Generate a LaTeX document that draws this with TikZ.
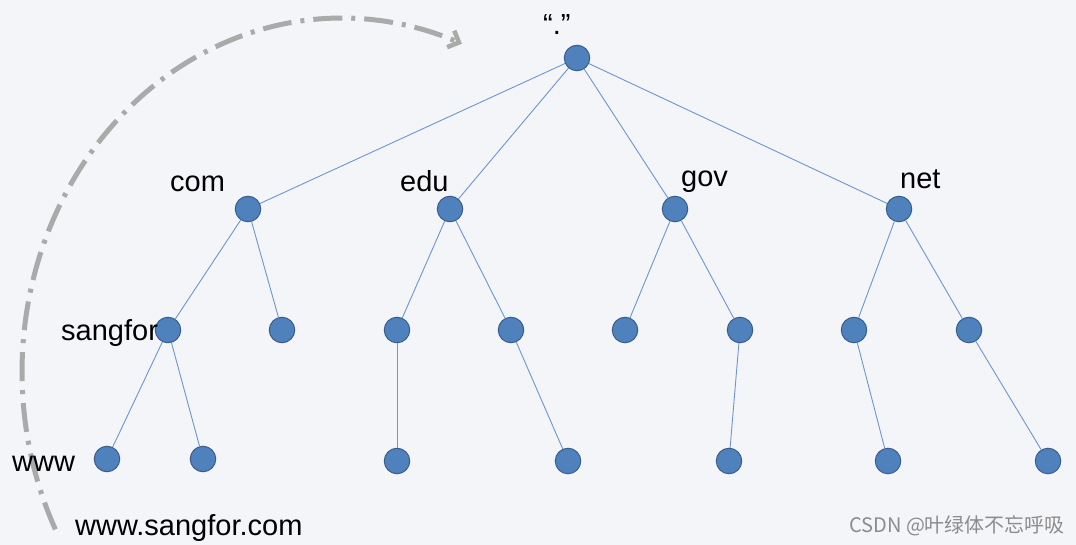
\documentclass[tikz,border=0pt]{standalone}
\usepackage{fontspec}
\setmainfont{Liberation Sans}
\newfontfamily\cjk{Noto Sans CJK SC}
\usetikzlibrary{arrows.meta}
\definecolor{bg}{RGB}{244,245,249}
\definecolor{nodefill}{RGB}{79,129,189}
\definecolor{nodeborder}{RGB}{56,93,138}
\definecolor{edgecol}{RGB}{110,150,205}
\definecolor{arcgray}{RGB}{170,170,170}
\definecolor{wm}{RGB}{140,140,140}
\begin{document}
\begin{tikzpicture}[x=1pt,y=-1pt,
  dot/.style={circle,fill=nodefill,draw=nodeborder,line width=1pt,minimum size=25.5pt,inner sep=0pt},
  edge/.style={draw=edgecol,line width=0.9pt},
  lab/.style={anchor=base west,inner sep=0pt,font=\fontsize{29}{33}\selectfont}]
\fill[bg] (0,0) rectangle (1076,545);
\useasboundingbox (0,0) rectangle (1076,545);

% arc arrow
\draw[arcgray,line width=5pt,dash pattern=on 29pt off 9pt on 4pt off 9pt,
  -{Straight Barb[length=9pt,width=18pt,line width=4.5pt]}]
  plot[domain=206.4:68,samples=100,smooth] ({342+320*cos(\x)},{372-354*sin(\x)});

% nodes
\node[dot] (root) at (577,58) {};
\node[dot] (com) at (248,209) {};
\node[dot] (edu) at (450,209) {};
\node[dot] (gov) at (675,209) {};
\node[dot] (net) at (899,209) {};
\node[dot] (sangfor) at (168,330) {};
\node[dot] (c2) at (282,330) {};
\node[dot] (e1) at (397,330) {};
\node[dot] (e2) at (511,330) {};
\node[dot] (g1) at (625,330) {};
\node[dot] (g2) at (740,330) {};
\node[dot] (n1) at (854,330) {};
\node[dot] (n2) at (969,330) {};
\node[dot] (www) at (107,459) {};
\node[dot] (s2) at (203,459) {};
\node[dot] (e1a) at (397,461) {};
\node[dot] (e2a) at (568,461) {};
\node[dot] (g2a) at (729,461) {};
\node[dot] (n1a) at (888,461) {};
\node[dot] (n2a) at (1048,461) {};

% edges
\foreach \a/\b in {root/com,root/edu,root/gov,root/net,com/sangfor,com/c2,edu/e1,edu/e2,gov/g1,gov/g2,net/n1,net/n2,sangfor/www,sangfor/s2,e1/e1a,e2/e2a,g2/g2a,n1/n1a,n2/n2a}
  \draw[edge] (\a) -- (\b);

% labels
\node[lab] (lroot) at (543,35) {“.”};
\node[lab] (lcom) at (170,192) {com};
\node[lab] (ledu) at (400,192) {edu};
\node[lab] (lgov) at (681,187) {gov};
\node[lab] (lnet) at (900,189) {net};
\node[lab] (lsangfor) at (61,341) {sangfor};
\node[lab] (lwww) at (12,471) {www};
\node[lab] (lfull) at (75,535) {www.sangfor.com};
\node[anchor=base west,inner sep=0pt,text=wm,font=\cjk\fontsize{20}{24}\selectfont] (wmk) at (849,532) {CSDN @叶绿体不忘呼吸};
\end{tikzpicture}
\end{document}
